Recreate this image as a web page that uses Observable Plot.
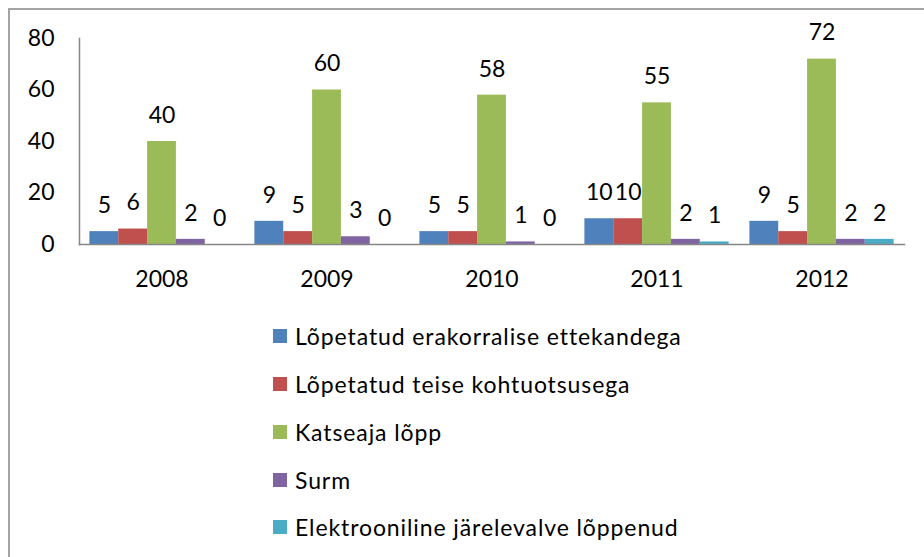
<!DOCTYPE html>
<html><head><meta charset="utf-8">
<script src="https://cdn.jsdelivr.net/npm/d3@7"></script>
<script src="https://cdn.jsdelivr.net/npm/@observablehq/plot@0.6"></script>
<style>
html,body{margin:0;padding:0;background:#fff;overflow:hidden;width:924px;height:557px;}
#border{position:absolute;left:8px;top:8px;width:1000px;height:700px;border-left:2px solid #a3a3a3;border-top:2px solid #a3a3a3;}
#chart{position:absolute;left:0;top:0;}
#legend{position:absolute;left:273px;top:0;font-family:Lato,sans-serif;font-size:23px;letter-spacing:0.9px;color:#000;}
.item{position:absolute;left:0;height:26px;line-height:26px;white-space:nowrap;display:flex;align-items:center;}
.sw{width:14px;height:14px;margin-right:8px;flex:none;}
</style></head><body>
<div id="border"></div><div id="chart"></div><div id="legend"></div>
<script>
const years = ["2008", "2009", "2010", "2011", "2012"];
const seriesNames = [
  "Lõpetatud erakorralise ettekandega",
  "Lõpetatud teise kohtuotsusega",
  "Katseaja lõpp",
  "Surm",
  "Elektrooniline järelevalve lõppenud"
];
const colors = ["#4F81BD", "#C0504D", "#9BBB59", "#8064A2", "#4BACC6"];
const erakorraline = [5, 9, 5, 10, 9];
const kohtuotsus = [6, 5, 5, 10, 5];
const katseaeg = [40, 60, 58, 55, 72];
const surm = [2, 3, 1, 2, 2];
const elektrooniline = [0, 0, 0, 1, 2];
const yTicks = [0, 20, 40, 60, 80];

const seriesValues = [erakorraline, kohtuotsus, katseaeg, surm, elektrooniline];
const data = [];
years.forEach((yr, i) => {
  seriesNames.forEach((s, j) => data.push({year: yr, series: s, value: seriesValues[j][i]}));
});

const FS = 23;
const chart = Plot.plot({
  width: 924,
  height: 300,
  marginLeft: 77,
  marginRight: 18,
  marginTop: 38,
  marginBottom: 56,
  style: {fontFamily: "Lato, sans-serif", fontSize: FS + "px", color: "#000", background: "transparent"},
  fx: {domain: years, paddingInner: 0, paddingOuter: 0, label: null},
  x: {domain: seriesNames, paddingInner: 0, paddingOuter: 0.36, round: false, axis: null},
  y: {domain: [0, 80], axis: null},
  color: {domain: seriesNames, range: colors},
  marks: [
    Plot.barY(data, {fx: "year", x: "series", y: "value", fill: "series"}),
    Plot.text(data, {fx: "year", x: "series", y: "value", text: d => String(d.value), dy: -26, fill: "#000", fontSize: FS, lineAnchor: "middle"}),
    Plot.axisY({ticks: yTicks, tickSize: 0, tickPadding: 25, fontSize: FS, label: null, fill: "#000"}),
    Plot.axisFx({anchor: "bottom", tickSize: 0, tickPadding: 26, fontSize: FS, label: null, fill: "#000"}),
    Plot.frame({anchor: "bottom", stroke: "#868686", strokeWidth: 1.5, facet: "super"}),
    Plot.frame({anchor: "left", stroke: "#868686", strokeWidth: 1.5, facet: "super"})
  ]
});
document.getElementById("chart").appendChild(chart);

const legend = document.getElementById("legend");
const rowCenters = [336, 384, 432, 480, 527];
seriesNames.forEach((s, i) => {
  const it = document.createElement("div");
  it.className = "item";
  it.style.top = (rowCenters[i] - 13) + "px";
  const sw = document.createElement("span");
  sw.className = "sw";
  sw.style.background = colors[i];
  const t = document.createElement("span");
  t.textContent = s;
  it.appendChild(sw); it.appendChild(t);
  legend.appendChild(it);
});
</script>
</body></html>
